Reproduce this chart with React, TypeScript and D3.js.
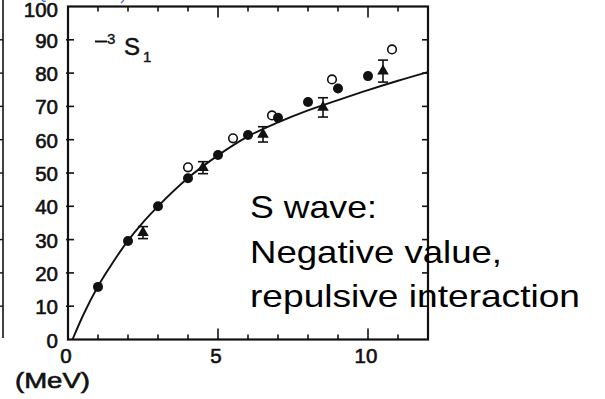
import React from "react";
import * as d3 from "d3";

// Filled circles
const filledE = [1, 2, 3, 4, 5, 6, 7, 8, 9, 10];
const filledD = [15.8, 29.6, 40, 48.4, 55.4, 61.4, 66.6, 71.3, 75.4, 79.1];
// Open circles
const openE = [4, 5.5, 6.8, 8.8, 10.8];
const openD = [51.7, 60.4, 67.3, 78.1, 87.1];
// Triangles with error bars
const triE = [2.5, 4.5, 6.5, 8.5, 10.5];
const triD = [32.1, 51.6, 61.6, 69.7, 80.6];
const triErr = [1.8, 1.8, 2.3, 2.9, 3.3];
// Theoretical curve
const curveE = [0.15, 0.5, 1, 1.5, 2, 2.5, 3, 4, 5, 6, 7, 8, 9, 10, 11, 12];
const curveD = [0, 7.2, 16, 23.2, 29.7, 35.2, 40, 48.5, 55.3, 61, 65.2, 68.8, 71.9, 74.9, 77.7, 80.3];

const xMinorTicks = [1, 2, 3, 4, 5, 6, 7, 8, 9, 10, 11];
const xMajorTicks = [5, 10];
const xTickLabels = ["0", "5", "10"];
const yTicks = [10, 20, 30, 40, 50, 60, 70, 80, 90];
const yTickLabels = ["0", "10", "20", "30", "40", "50", "60", "70", "80", "90", "100"];
const noteLines = ["S wave:", "Negative value,", "repulsive interaction"];
const noteWidths = [127, 252, 330];

const FONT = "'Liberation Sans', Arial, sans-serif";

export default function App() {
  const x = d3.scaleLinear().domain([0, 12]).range([68, 428]);
  const y = d3.scaleLinear().domain([0, 100]).range([339.5, 6.5]);

  const line = d3
    .line<number>()
    .x((_, i) => x(curveE[i]))
    .y((d) => y(d))
    .curve(d3.curveMonotoneX);

  const tri = d3.symbol().type(d3.symbolTriangle).size(58)();

  return (
    <svg
      width={605}
      height={399}
      style={{ position: "absolute", left: 0, top: 0, background: "#fff" }}
    >
      <rect x={0} y={0} width={605} height={399} fill="#fff" />
      {/* neighbouring panel's right axis */}
      <line x1={3} x2={3} y1={0} y2={338} stroke="#111" strokeWidth={1.6} />
      {yTicks.map((t) => (
        <line key={"sl" + t} x1={0} x2={3} y1={y(t)} y2={y(t)} stroke="#111" strokeWidth={1.4} />
      ))}
      {/* blue fragments at top */}
      <path d="M42,0 Q44,2 46,1" fill="none" stroke="#3a6fd8" strokeWidth={1.2} />
      <path d="M124,0 L121,3" fill="none" stroke="#3a6fd8" strokeWidth={1.2} />

      {/* frame */}
      <rect
        x={x(0)}
        y={y(100)}
        width={x(12) - x(0)}
        height={y(0) - y(100)}
        fill="none"
        stroke="#111"
        strokeWidth={2.2}
      />
      {/* x ticks bottom/top */}
      {xMinorTicks.map((t) => {
        const len = xMajorTicks.includes(t) ? 11 : 5;
        return (
          <g key={"xt" + t}>
            <line x1={x(t)} x2={x(t)} y1={y(0)} y2={y(0) - len} stroke="#111" strokeWidth={1.6} />
            <line x1={x(t)} x2={x(t)} y1={y(100)} y2={y(100) + len} stroke="#111" strokeWidth={1.6} />
          </g>
        );
      })}
      {/* y ticks left/right */}
      {yTicks.map((t) => (
        <g key={"yt" + t}>
          <line x1={x(0) - 2} x2={x(0) + 6} y1={y(t)} y2={y(t)} stroke="#111" strokeWidth={1.6} />
          <line x1={x(12) - 6} x2={x(12)} y1={y(t)} y2={y(t)} stroke="#111" strokeWidth={1.6} />
        </g>
      ))}
      {/* y tick labels */}
      {yTickLabels.map((s, i) => (
        <text
          key={"yl" + s}
          x={58}
          y={i === 10 ? 17 : y(i * 10) + 8}
          textAnchor="end"
          fontFamily={FONT}
          fontSize={20.5}
          fill="#111"
          stroke="#111"
          strokeWidth={0.6}
        >
          {s}
        </text>
      ))}
      {/* x tick labels */}
      {xTickLabels.map((s) => (
        <text
          key={"xl" + s}
          x={x(+s) - 2}
          y={363}
          textAnchor="middle"
          fontFamily={FONT}
          fontSize={20.5}
          fill="#111"
          stroke="#111"
          strokeWidth={0.6}
        >
          {s}
        </text>
      ))}
      <text
        x={15}
        y={388}
        fontFamily={FONT}
        fontSize={22}
        textLength={75}
        lengthAdjust="spacingAndGlyphs"
        fill="#111"
        stroke="#111"
        strokeWidth={0.6}
      >
        (MeV)
      </text>

      {/* state label −3S1 */}
      <line x1={95} x2={107} y1={41.5} y2={41.5} stroke="#111" strokeWidth={2} />
      <text x={107} y={44} fontFamily={FONT} fontSize={15} fill="#111" stroke="#111" strokeWidth={0.4}>3</text>
      <text x={124} y={55} fontFamily={FONT} fontSize={24} fill="#111" stroke="#111" strokeWidth={0.5}>S</text>
      <text x={143} y={62} fontFamily={FONT} fontSize={15} fill="#111" stroke="#111" strokeWidth={0.4}>1</text>

      {/* curve */}
      <path d={line(curveD) || ""} fill="none" stroke="#111" strokeWidth={1.9} />

      {/* error bars and triangles */}
      {triE.map((e, i) => {
        const cx = x(e);
        const top = y(triD[i] + triErr[i]);
        const bot = y(triD[i] - triErr[i]);
        return (
          <g key={"tr" + i}>
            <line x1={cx} x2={cx} y1={top} y2={bot} stroke="#111" strokeWidth={1.6} />
            <line x1={cx - 5} x2={cx + 5} y1={top} y2={top} stroke="#111" strokeWidth={1.6} />
            <line x1={cx - 5} x2={cx + 5} y1={bot} y2={bot} stroke="#111" strokeWidth={1.6} />
            <path d={tri || ""} transform={`translate(${cx},${y(triD[i])})`} fill="#111" />
          </g>
        );
      })}
      {/* open circles */}
      {openE.map((e, i) => (
        <circle key={"oc" + i} cx={x(e)} cy={y(openD[i])} r={4.3} fill="#fff" stroke="#111" strokeWidth={1.6} />
      ))}
      {/* filled circles */}
      {filledE.map((e, i) => (
        <circle key={"fc" + i} cx={x(e)} cy={y(filledD[i])} r={5} fill="#111" />
      ))}

      {/* annotation */}
      {noteLines.map((s, i) => (
        <text
          key={"n" + i}
          x={250}
          y={218 + i * 44.5}
          fontFamily={FONT}
          fontSize={32}
          textLength={noteWidths[i]}
          lengthAdjust="spacingAndGlyphs"
          fill="#000"
        >
          {s}
        </text>
      ))}
    </svg>
  );
}
